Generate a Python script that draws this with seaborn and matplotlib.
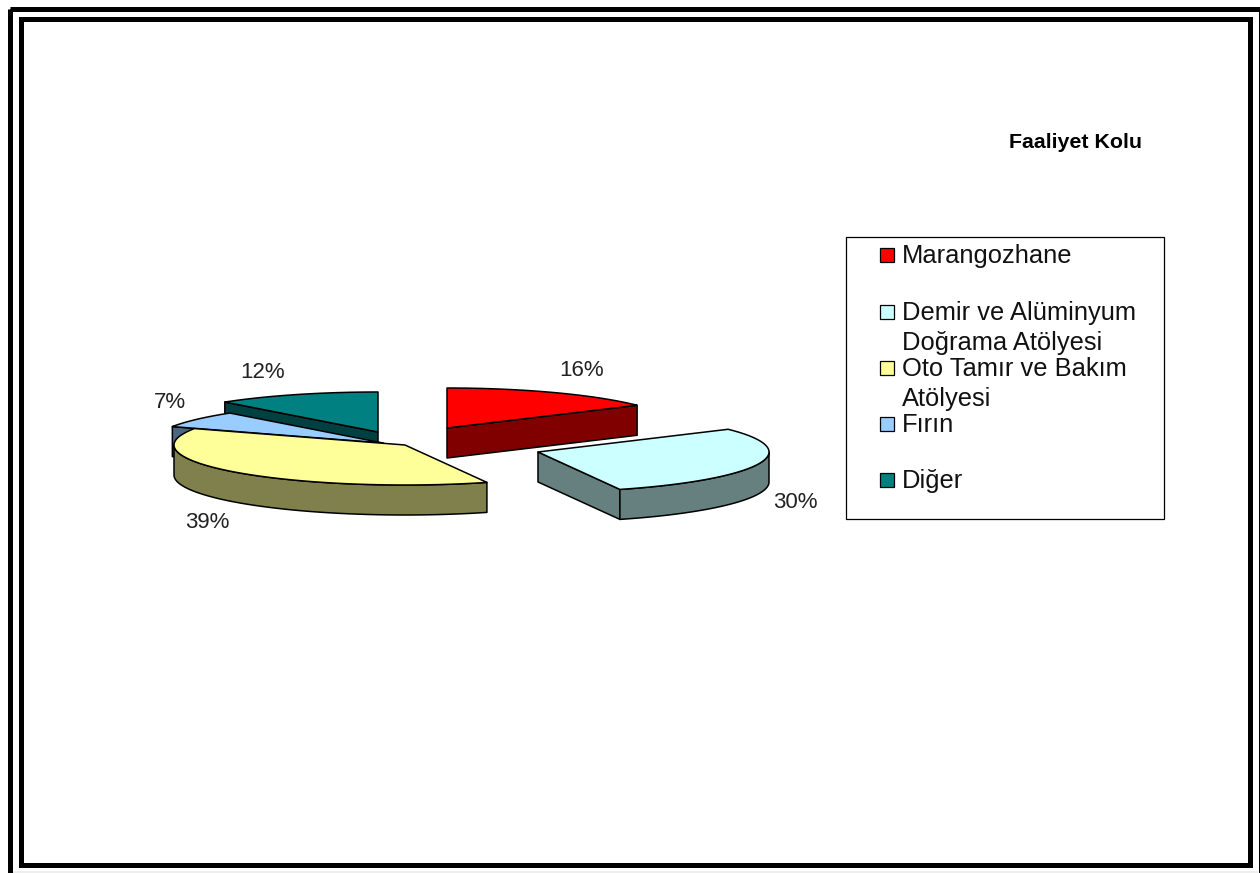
import numpy as np
import seaborn as sns
import matplotlib
matplotlib.use("Agg")
import matplotlib.pyplot as plt
from matplotlib.patches import Polygon, Rectangle

# ---- data ----
categories = ["Marangozhane", "Demir ve Alüminyum\nDoğrama Atölyesi",
              "Oto Tamır ve Bakım\nAtölyesi", "Fırın", "Diğer"]
percents = [16, 30, 39, 7, 12]
title_text = "Faaliyet Kolu"

# ---- styling / layout ----
top_colors = sns.color_palette(["#FF0000", "#CCFFFF", "#FFFF99", "#99CCFF", "#008080"])
wall_colors = [tuple(c * 0.5 for c in col) for col in top_colors]
slice_centers = [(447, 428), (538, 452), (405, 445), (383, 443), (378, 432)]
label_centers = [(582, 370), (795, 503), (207, 523), (170, 402), (263, 372)]
draw_order = [4, 3, 0, 2, 1]
RX, RY, DEPTH = 231, 40, 30
EDGE = 1.1

sns.set_theme(style="white")
plt.rcParams["font.family"] = ["Liberation Sans", "DejaVu Sans"]

fig = plt.figure(figsize=(12.6, 8.73), dpi=100)
ax = fig.add_axes([0, 0, 1, 1])
ax.set_xlim(0, 1260)
ax.set_ylim(873, 0)
ax.axis("off")

# page frame
ax.add_patch(Rectangle((12, 871), 1246, 2, fc="#eeeeee", ec="none", zorder=0))
for (l, t, r, b) in [(9.5, 8.5, 1260.5, 880), (20.5, 19, 1249.5, 864.5)]:
    ax.add_patch(Rectangle((l, t), r - l, b - t, fc="none", ec="black", lw=3.6,
                           joinstyle="miter", zorder=1))

# pie: angles come from the values, clockwise from 12 o'clock
fractions = np.array(percents, dtype=float) / sum(percents)
edges = np.concatenate([[0], np.cumsum(fractions)]) * 2 * np.pi


def rim(cx, cy, th):
    th = np.asarray(th)
    return np.column_stack([cx + RX * np.sin(th), cy - RY * np.cos(th)])


for i in draw_order:
    cx, cy = slice_centers[i]
    a0, a1 = edges[i], edges[i + 1]
    arc = rim(cx, cy, np.linspace(a0, a1, 120))
    apex = np.array([[cx, cy]], dtype=float)
    drop = np.array([0, DEPTH])
    kw = dict(fc=wall_colors[i], ec="black", lw=EDGE, joinstyle="round", zorder=2)
    # radial cut walls that face the viewer
    if np.sin(a1) > 0:
        p = rim(cx, cy, [a1])
        ax.add_patch(Polygon(np.vstack([apex, p, p + drop, apex + drop]), **kw))
    if np.sin(a0) < 0:
        p = rim(cx, cy, [a0])
        ax.add_patch(Polygon(np.vstack([apex, p, p + drop, apex + drop]), **kw))
    # outer curved wall
    lo, hi = max(a0, np.pi / 2), min(a1, 3 * np.pi / 2)
    if hi > lo:
        a = rim(cx, cy, np.linspace(lo, hi, 120))
        ax.add_patch(Polygon(np.vstack([a, (a + drop)[::-1]]), **kw))
    # top face
    ax.add_patch(Polygon(np.vstack([apex, arc]), fc=top_colors[i], ec="black",
                         lw=EDGE, joinstyle="round", zorder=2))

for v, (x, y) in zip(percents, label_centers):
    ax.text(x, y, f"{v}%", fontsize=16, color="#222222", ha="center", va="center", zorder=3)

ax.text(1075.5, 143, title_text, fontsize=15.4, fontweight="bold", color="black",
        ha="center", va="center", zorder=3)

# legend
ax.add_patch(Rectangle((846, 237), 318, 282, fc="white", ec="black", lw=0.9, zorder=1))
row_centers = [255, 312, 368, 424, 480]
for name, col, yc in zip(categories, top_colors, row_centers):
    ax.add_patch(Rectangle((880, yc - 7), 14, 14, fc=col, ec="black", lw=0.9, zorder=3))
    ax.text(902, yc - 11, name, fontsize=18.4, color="#111111", ha="left", va="top",
            linespacing=1.33, zorder=3)

fig.savefig("out.png", dpi=100, facecolor="white")
